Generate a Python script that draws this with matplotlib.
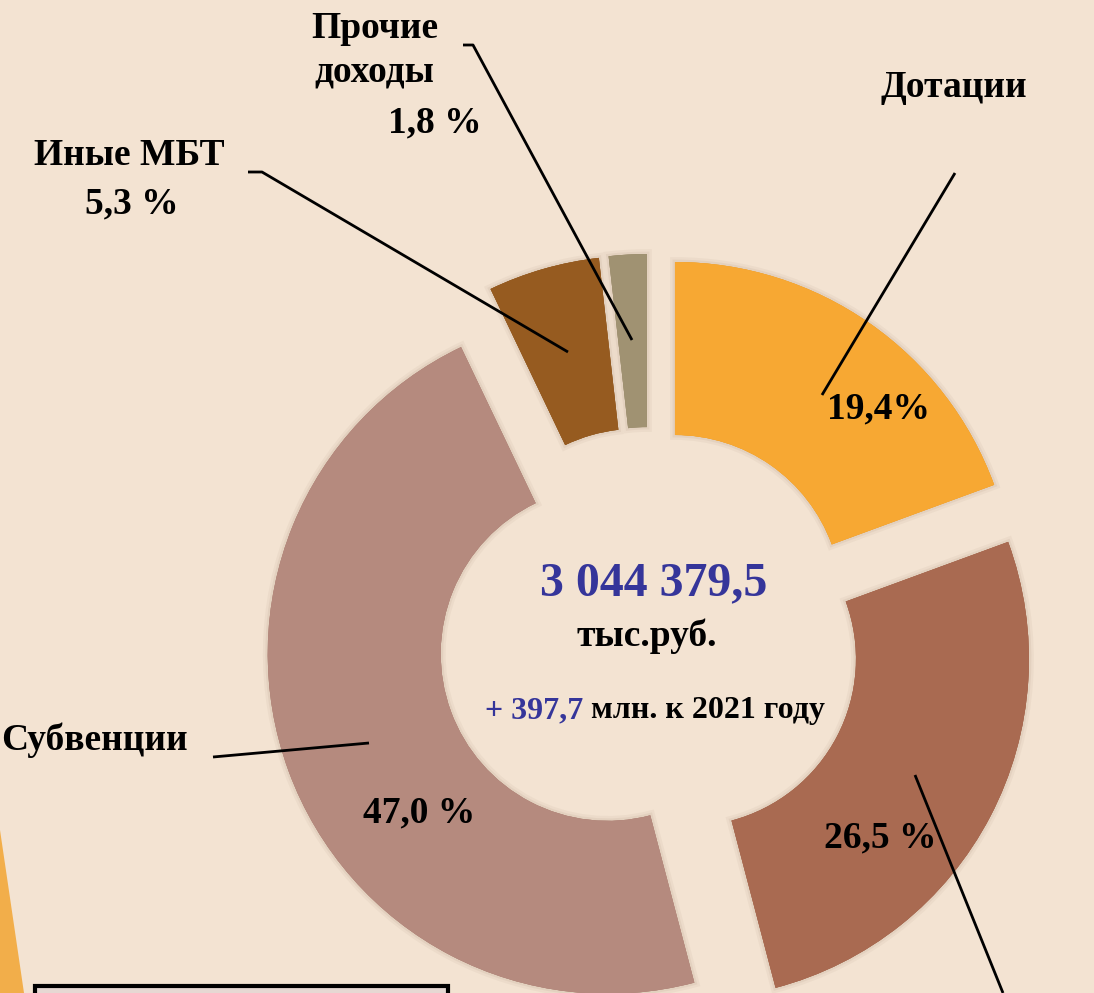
import matplotlib.pyplot as plt
import matplotlib.patheffects as pe
from matplotlib.patches import Polygon, Rectangle

# data
categories = ['Дотации', 'Субсидии', 'Субвенции', 'Иные МБТ', 'Прочие доходы']
shares = [19.4, 26.5, 47.0, 5.3, 1.8]
share_labels = ['19,4%', '26,5 %', '47,0 %', '5,3 %', '1,8 %']
colors = ['#F7A833', '#A96A51', '#B58A7E', '#965B20', '#A09272']
total_text = '3 044 379,5'
growth_text = '+ 397,7'

W, H = 1094, 993
bg = '#F3E3D2'
plt.rcParams['font.family'] = ['Liberation Serif', 'DejaVu Serif']
plt.rcParams['font.weight'] = 'bold'

fig = plt.figure(figsize=(W / 100, H / 100), dpi=100, facecolor=bg)
ax = fig.add_axes([0, 0, 1, 1])
ax.set_facecolor(bg)


def Y(y):
    # pixel row -> data y
    return H - y


glow = [pe.Stroke(linewidth=7, foreground=(0.45, 0.32, 0.22, 0.05)),
        pe.Stroke(linewidth=3.5, foreground=(0.45, 0.32, 0.22, 0.07)),
        pe.Normal()]

wedges, _ = ax.pie(shares, colors=colors, startangle=90, counterclock=False,
                   radius=340, center=(649.5, Y(638.5)), explode=[44.5] * 5,
                   wedgeprops=dict(width=173, linewidth=0), frame=True)
for w in wedges:
    w.set_path_effects(glow)

# decorations cut off at the bottom edge
ax.add_patch(Polygon([(0, Y(830)), (24, Y(993)), (0, Y(993))],
                     closed=True, color='#F2AE4A', lw=0))
ax.add_patch(Rectangle((35, Y(1010)), 413, 24, facecolor='#E6D8D3',
                       edgecolor='black', lw=3))

# leader lines
lines = [
    [(955, 173), (822, 395)],
    [(915, 775), (1003, 993)],
    [(213, 757), (369, 743)],
    [(248, 172), (262, 172), (568, 352)],
    [(463, 45), (473, 45), (632, 340)],
]
for pts in lines:
    ax.plot([p[0] for p in pts], [Y(p[1]) for p in pts], color='black', lw=2,
            solid_capstyle='butt')

fs = 27
txt = dict(ha='center', va='baseline', fontsize=fs, color='black')
ax.text(954, Y(97), categories[0], **txt)
ax.text(879, Y(418), share_labels[0], **txt)
ax.text(880, Y(847), share_labels[1], **txt)
ax.text(94, Y(750), categories[2], **txt)
ax.text(419, Y(822), share_labels[2], **txt)
ax.text(129, Y(165), categories[3], **txt)
ax.text(132, Y(213), share_labels[3], **txt)
ax.text(375, Y(38), 'Прочие', **txt)
ax.text(374, Y(82), 'доходы', **txt)
ax.text(435, Y(132), share_labels[4], **txt)

# centre
blue = '#35359A'
ax.text(654, Y(595), total_text, ha='center', va='baseline', fontsize=34.5,
        color=blue)
ax.text(647, Y(646), 'тыс.руб.', ha='center', va='baseline', fontsize=27,
        color='black')
t1 = ax.text(485, Y(718), growth_text, ha='left', va='baseline', fontsize=23,
             color=blue)
ax.annotate(' млн. к 2021 году', xy=(1, 0), xycoords=t1, ha='left',
            va='bottom', fontsize=23, color='black')

ax.set_xlim(0, W)
ax.set_ylim(0, H)
ax.set_aspect('auto')
ax.axis('off')

fig.savefig('out.png', dpi=100, facecolor=bg)
